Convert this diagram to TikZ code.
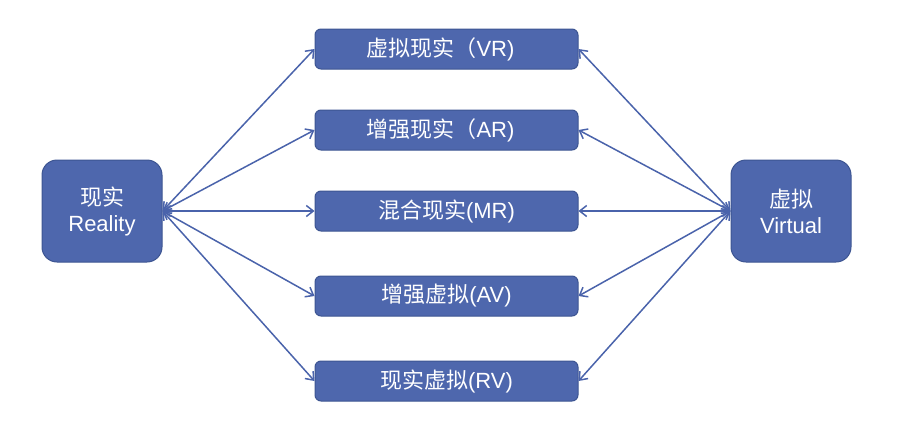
\documentclass[tikz,border=0pt]{standalone}
\usepackage{fontspec}
\setmainfont{Liberation Sans}
\newfontfamily\cjk{Noto Sans CJK SC}
\usetikzlibrary{arrows.meta}
\definecolor{boxfill}{HTML}{4E67AD}
\definecolor{boxline}{HTML}{3D5592}
\definecolor{arrowc}{HTML}{4A63AB}
\begin{document}
\begin{tikzpicture}[x=1pt,y=-1pt,
  sidebox/.style={draw=boxline, line width=1pt, fill=boxfill, rounded corners=15pt,
    minimum width=120pt, minimum height=102pt, text=white, align=center,
    font=\fontsize{22}{26}\selectfont, inner sep=0pt},
  midbox/.style={draw=boxline, line width=1pt, fill=boxfill, rounded corners=6pt,
    minimum width=263pt, minimum height=40pt, text=white,
    font=\fontsize{22}{26}\selectfont, inner sep=0pt},
  link/.style={draw=arrowc, line width=1.5pt, {Straight Barb[length=7pt,width=11pt]}-{Straight Barb[length=7pt,width=11pt]}}
]
\useasboundingbox (0,0) rectangle (906,426);
\node[sidebox] (L) at (102,211) {{\cjk 现实}\\Reality};
\node[sidebox] (R) at (791,211) {{\cjk 虚拟}\\Virtual};
\node[midbox] (vr) at (446.5,49) {{\cjk 虚拟现实（}VR)\hspace*{12pt}};
\node[midbox] (ar) at (446.5,130) {{\cjk 增强现实（}AR)\hspace*{12pt}};
\node[midbox] (mr) at (446.5,211) {{\cjk 混合现实}(MR)};
\node[midbox] (av) at (446.5,296) {{\cjk 增强虚拟}(AV)};
\node[midbox] (rv) at (446.5,381) {{\cjk 现实虚拟}(RV)};
\foreach \b in {vr,ar,mr,av,rv}{
  \draw[link] (L.east) -- (\b.west);
  \draw[link] (\b.east) -- (R.west);
}
\end{tikzpicture}
\end{document}
